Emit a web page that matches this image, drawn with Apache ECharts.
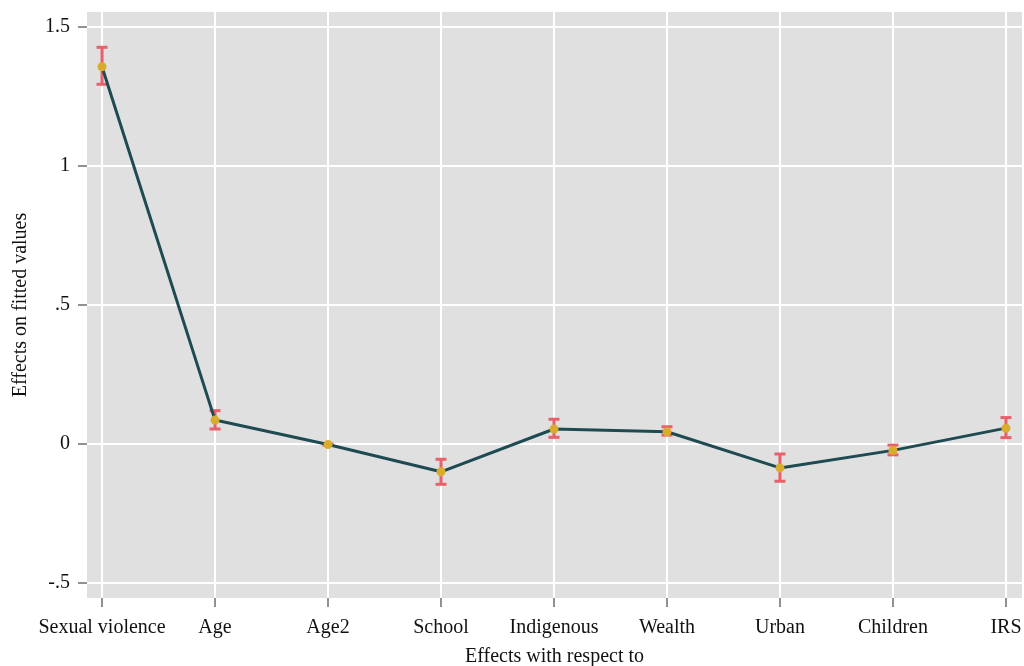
<!DOCTYPE html>
<html>
<head>
<meta charset="utf-8">
<title>Effects on fitted values</title>
<script src="https://cdn.jsdelivr.net/npm/echarts@6/dist/echarts.min.js"></script>
<style>
  html, body { margin: 0; padding: 0; background: #ffffff; }
  #chart { width: 1024px; height: 666px; }
</style>
</head>
<body>
<div id="chart"></div>
<script>
// Regressors along the horizontal axis
const categories = ['Sexual violence', 'Age', 'Age2', 'School', 'Indigenous', 'Wealth', 'Urban', 'Children', 'IRS'];
// Point estimates of the effect on fitted values
const effects = [1.357, 0.086, -0.002, -0.100, 0.054, 0.044, -0.086, -0.023, 0.057];
// Confidence interval bounds
const lowerBounds = [1.294, 0.054, -0.004, -0.145, 0.024, 0.032, -0.134, -0.039, 0.023];
const upperBounds = [1.427, 0.120, 0.000, -0.055, 0.089, 0.062, -0.036, -0.004, 0.095];
// Y axis tick values and their printed labels
const yTicks = [-0.5, 0, 0.5, 1, 1.5];
const yTickLabels = ['-.5', '0', '.5', '1', '1.5'];

const FONT = '"Liberation Serif", "DejaVu Serif", serif';
const TEXT = '#111111';
const TICK = '#6e6e6e';

const xPositions = categories.map((_, i) => i);
const pointData = effects.map((v, i) => [i, v]);
const ciData = lowerBounds.map((lo, i) => [i, lo, upperBounds[i]]);

const chart = echarts.init(document.getElementById('chart'), null, { renderer: 'canvas' });

chart.setOption({
  backgroundColor: '#ffffff',
  animation: false,
  grid: {
    left: 87, right: 2, top: 12, bottom: 68,
    outerBoundsMode: 'none',
    containLabel: false,
    show: true, backgroundColor: '#e0e0e0', borderWidth: 0
  },
  xAxis: {
    type: 'value',
    min: -0.133, max: 8.142,
    name: 'Effects with respect to',
    nameLocation: 'middle',
    nameGap: 49,
    nameTextStyle: { fontFamily: FONT, fontSize: 20, color: TEXT },
    axisLine: { show: false, onZero: false },
    axisTick: { show: true, customValues: xPositions, length: 9, lineStyle: { color: TICK, width: 1.5 } },
    axisLabel: {
      customValues: xPositions,
      formatter: v => categories[Math.round(v)],
      fontFamily: FONT, fontSize: 20, color: TEXT, margin: 20
    },
    splitLine: { show: true, lineStyle: { color: '#ffffff', width: 2 } }
  },
  yAxis: {
    type: 'value',
    min: -0.554, max: 1.554,
    name: 'Effects on fitted values',
    nameLocation: 'middle',
    nameGap: 56,
    nameRotate: 90,
    nameTextStyle: { fontFamily: FONT, fontSize: 20, color: TEXT },
    axisLine: { show: false, onZero: false },
    axisTick: { show: true, customValues: yTicks, length: 9, lineStyle: { color: TICK, width: 1.5 } },
    axisLabel: {
      customValues: yTicks,
      formatter: v => yTickLabels[yTicks.findIndex(t => Math.abs(t - v) < 1e-9)],
      fontFamily: FONT, fontSize: 20, color: TEXT, margin: 17
    },
    splitLine: { show: true, lineStyle: { color: '#ffffff', width: 2 } }
  },
  series: [
    {
      name: 'Effect',
      type: 'line',
      data: pointData,
      z: 3,
      lineStyle: { color: '#1e4a52', width: 3 },
      symbol: 'circle',
      symbolSize: 9,
      itemStyle: { color: '#d9ac2c', borderWidth: 0 }
    },
    {
      name: 'CI',
      type: 'custom',
      data: ciData,
      z: 2,
      renderItem: function (params, api) {
        const x = api.value(0);
        const lo = api.coord([x, api.value(1)]);
        const hi = api.coord([x, api.value(2)]);
        const half = 5.5;
        const style = { stroke: '#e8606a', lineWidth: 3, fill: null };
        return {
          type: 'group',
          children: [
            { type: 'line', shape: { x1: lo[0], y1: lo[1], x2: hi[0], y2: hi[1] }, style: style },
            { type: 'line', shape: { x1: lo[0] - half, y1: lo[1], x2: lo[0] + half, y2: lo[1] }, style: style },
            { type: 'line', shape: { x1: hi[0] - half, y1: hi[1], x2: hi[0] + half, y2: hi[1] }, style: style }
          ]
        };
      }
    }
  ]
});
</script>
</body>
</html>
